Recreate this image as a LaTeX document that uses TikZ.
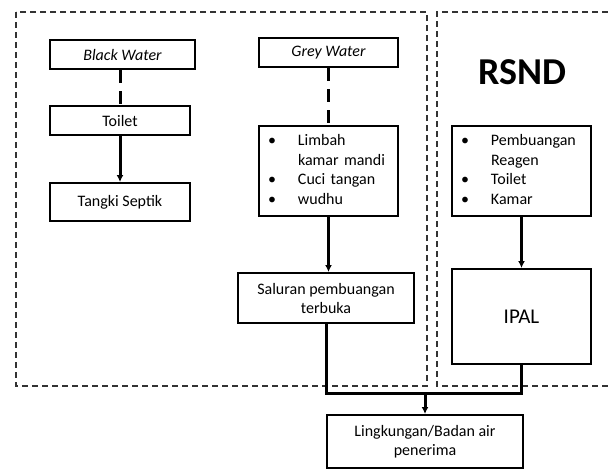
\documentclass[tikz,border=0pt]{standalone}
\usepackage{fontspec}
\setmainfont{Carlito}
\usetikzlibrary{arrows.meta}

\begin{document}
\begin{tikzpicture}[x=1pt, y=-1pt, font=\fontsize{16}{19}\selectfont,
  box/.style={draw, line width=2pt, inner sep=0pt, align=center},
  listbox/.style={box, align=left, inner xsep=9pt, text width=121pt,
    minimum width=139pt, minimum height=90pt},
  flow/.style={line width=3pt, -{Latex[length=7pt,width=7pt]}},
  link/.style={line width=3pt, dash pattern=on 13pt off 8pt},
  zone/.style={line width=2.2pt, dash pattern=on 6pt off 4pt, black!80}]
\useasboundingbox (0,0) rectangle (608,472);
\renewcommand{\arraystretch}{1.05}
% ---- dashed zones ----
\draw[zone] (16,12) rectangle (427,386);
\draw[zone] (608,12) -- (437,12) -- (437,386) -- (608,386);
% ---- black water ----
\node[box, minimum width=145pt, minimum height=29pt] (black) at (122.5,54.5) {\itshape Black Water};
\node[box, minimum width=140pt, minimum height=29pt] (toilet) at (120,120.5) {Toilet};
\node[box, minimum width=140pt, minimum height=38pt] (tangki) at (120,202) {Tangki Septik};
% ---- grey water ----
\node[box, minimum width=139pt, minimum height=29pt] (grey) at (328.5,52.5) {\itshape Grey Water};
\node[listbox] (limbah) at (328.5,171) {\begin{tabular}{@{}p{30pt}@{}l@{}}
  \textbullet & Limbah\\ & kamar mandi\\ \textbullet & Cuci tangan\\ \textbullet & wudhu
\end{tabular}};
\node[box, minimum width=176pt, minimum height=50pt] (saluran) at (326,298) {Saluran pembuangan\\terbuka};
% ---- RSND ----
\node[font=\fontsize{38}{42}\selectfont\bfseries] (rsnd) at (522,72) {RSND};
\node[listbox] (rsndlist) at (521.5,171) {\begin{tabular}{@{}p{30pt}@{}l@{}}
  \textbullet & Pembuangan\\ & Reagen\\ \textbullet & Toilet\\ \textbullet & Kamar
\end{tabular}};
\node[box, minimum width=139pt, minimum height=95pt, font=\fontsize{21}{25}\selectfont] (ipal) at (521.5,316.5) {IPAL};
% ---- receiving water ----
\node[box, minimum width=196pt, minimum height=53pt] (lingk) at (425,441.5) {Lingkungan/Badan air\\penerima};
\coordinate (join) at (425,393);
% ---- connectors ----
\draw[link] (toilet.north |- black.south) -- (toilet.north);
\draw[flow] (toilet) -- (tangki);
\draw[link] (limbah.north |- grey.south) -- (limbah.north);
\draw[flow] (limbah.south) -- (limbah.south |- saluran.north);
\draw[flow] (rsndlist) -- (ipal);
\draw[line width=3pt] (saluran.south) |- (join) -| (ipal.south);
\draw[flow] (join) -- (lingk);
\end{tikzpicture}
\end{document}
